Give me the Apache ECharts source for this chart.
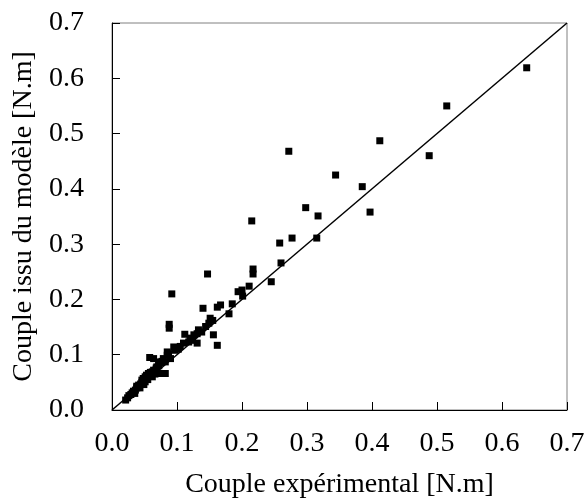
<!DOCTYPE html>
<html>
<head>
<meta charset="utf-8">
<script src="https://cdn.jsdelivr.net/npm/echarts@6/dist/echarts.min.js"></script>
<style>
  html, body { margin: 0; padding: 0; background: #fff; }
  #chart { width: 585px; height: 500px; }
</style>
</head>
<body>
<div id="chart"></div>
<script>
var chart = echarts.init(document.getElementById('chart'));

// couple experimental (x) vs couple issu du modele (y), N.m
var pointsLow = [
  [0.021, 0.018], [0.024, 0.022], [0.026, 0.026], [0.029, 0.028], [0.031, 0.031],
  [0.033, 0.034], [0.036, 0.036], [0.038, 0.040], [0.038, 0.043], [0.041, 0.045],
  [0.044, 0.047], [0.046, 0.050], [0.046, 0.054], [0.048, 0.057], [0.051, 0.051],
  [0.051, 0.060], [0.053, 0.063], [0.056, 0.066], [0.058, 0.062], [0.059, 0.068],
  [0.062, 0.060], [0.062, 0.069], [0.064, 0.072], [0.067, 0.072], [0.068, 0.076],
  [0.069, 0.078], [0.072, 0.080], [0.072, 0.084], [0.074, 0.066], [0.076, 0.086],
  [0.077, 0.088], [0.079, 0.093], [0.082, 0.066], [0.082, 0.087], [0.085, 0.099],
  [0.087, 0.102], [0.058, 0.095], [0.064, 0.093], [0.072, 0.087], [0.090, 0.093],
  [0.097, 0.108], [0.095, 0.114], [0.085, 0.105], [0.035, 0.030], [0.043, 0.040],
  [0.049, 0.046], [0.055, 0.055], [0.066, 0.065]
];
var pointsMid = [
  [0.088, 0.155], [0.088, 0.148], [0.092, 0.210], [0.110, 0.121], [0.112, 0.137],
  [0.118, 0.123], [0.124, 0.126], [0.126, 0.136], [0.131, 0.121], [0.131, 0.138],
  [0.133, 0.145], [0.138, 0.141], [0.144, 0.151], [0.149, 0.157], [0.151, 0.166],
  [0.140, 0.184], [0.147, 0.246], [0.162, 0.117], [0.156, 0.136], [0.162, 0.186],
  [0.167, 0.190], [0.155, 0.162], [0.105, 0.115], [0.102, 0.110], [0.120, 0.130],
  [0.180, 0.174], [0.185, 0.192], [0.194, 0.214], [0.200, 0.217], [0.201, 0.206],
  [0.211, 0.224], [0.215, 0.342], [0.217, 0.255], [0.217, 0.246], [0.245, 0.232]
];
var pointsHigh = [
  [0.258, 0.302], [0.260, 0.266], [0.272, 0.468], [0.277, 0.311], [0.298, 0.366],
  [0.315, 0.311], [0.317, 0.351], [0.344, 0.425], [0.385, 0.404], [0.397, 0.358],
  [0.412, 0.487], [0.488, 0.460], [0.515, 0.550], [0.638, 0.619]
];
var identityLine = [[0, 0], [0.7, 0.7]];
var tickLabels = ['0.0', '0.1', '0.2', '0.3', '0.4', '0.5', '0.6', '0.7'];

var serif = 'Liberation Serif';

function axisOpts(name, gap, margin) {
  return {
    type: 'value',
    min: 0,
    max: 0.7,
    interval: 0.1,
    name: name,
    nameLocation: 'middle',
    nameGap: gap,
    nameTextStyle: { fontFamily: serif, fontSize: 28, color: '#000' },
    axisLine: { show: true, lineStyle: { color: '#000', width: 1 } },
    axisTick: { show: true, inside: true, length: 8, lineStyle: { color: '#000' } },
    axisLabel: {
      fontFamily: serif, fontSize: 28, color: '#000', margin: margin,
      formatter: function (v) { return tickLabels[Math.round(v * 10)]; }
    },
    splitLine: { show: false }
  };
}

var option = {
  backgroundColor: '#fff',
  animation: false,
  grid: {
    left: 112, right: 18, top: 23, bottom: 90,
    outerBoundsMode: 'none',
    containLabel: false,
    show: true, borderColor: '#808080', borderWidth: 1, backgroundColor: 'transparent'
  },
  xAxis: axisOpts('Couple expérimental [N.m]', 61, 20),
  yAxis: axisOpts('Couple issu du modèle [N.m]', 72, 28),
  series: [
    {
      type: 'line',
      data: identityLine,
      symbol: 'none',
      lineStyle: { color: '#000', width: 1.5 },
      z: 1
    },
    {
      type: 'scatter',
      data: pointsLow.concat(pointsMid, pointsHigh),
      symbol: 'rect',
      symbolSize: 7,
      itemStyle: { color: '#000', opacity: 1 },
      z: 2
    }
  ]
};
chart.setOption(option);
</script>
</body>
</html>
